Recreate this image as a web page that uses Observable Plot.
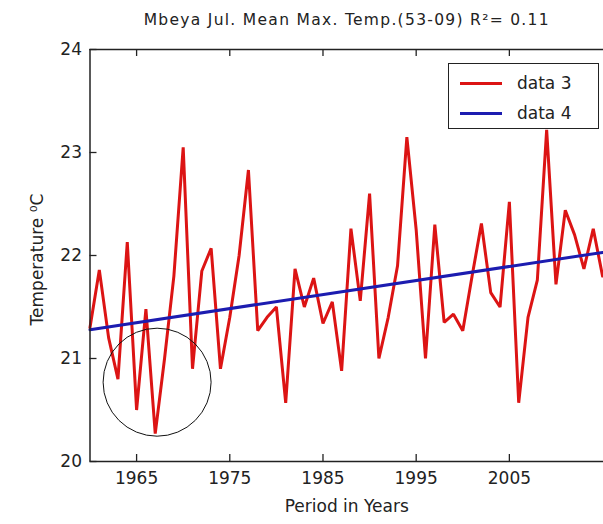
<!DOCTYPE html>
<html>
<head>
<meta charset="utf-8">
<script src="https://cdn.jsdelivr.net/npm/d3@7"></script>
<script src="https://cdn.jsdelivr.net/npm/@observablehq/plot@0.6"></script>
<style>
  html, body { margin: 0; padding: 0; background: #fff; overflow: hidden; }
  #wrap { position: relative; width: 603px; height: 524px; }
  #legend { position: absolute; left: 448px; top: 63px; width: 151px; height: 66px;
    border: 1px solid #222; background: #fff; box-sizing: border-box;
    font-family: "DejaVu Sans", sans-serif; font-size: 17px; color: #222; }
  .row { position: absolute; left: 0; height: 20px; display: flex; align-items: center; }
  .sw { width: 42px; height: 3px; margin-left: 11px; margin-right: 15px; }
</style>
</head>
<body>
<div id="wrap"><div id="chart"></div><div id="legend"></div></div>
<script>
const years = [1960,1961,1962,1963,1964,1965,1966,1967,1968,1969,1970,1971,1972,1973,1974,1975,1976,1977,1978,1979,1980,1981,1982,1983,1984,1985,1986,1987,1988,1989,1990,1991,1992,1993,1994,1995,1996,1997,1998,1999,2000,2001,2002,2003,2004,2005,2006,2007,2008,2009,2010,2011,2012,2013,2014,2015];
const temps = [21.30,21.86,21.20,20.80,22.13,20.50,21.48,20.27,21.00,21.80,23.05,20.90,21.85,22.07,20.90,21.40,22.00,22.83,21.27,21.40,21.50,20.57,21.87,21.50,21.78,21.34,21.55,20.88,22.26,21.56,22.60,21.00,21.40,21.90,23.15,22.25,21.00,22.30,21.35,21.43,21.27,21.80,22.31,21.64,21.50,22.52,20.57,21.40,21.76,23.22,21.72,22.44,22.20,21.87,22.26,21.80];
const trendYears = [1960, 2015];
const trendTemps = [21.28, 22.03];
const circleCenterYear = [1967.2];
const circleCenterTemp = [20.77];
const xTicks = [1965, 1975, 1985, 1995, 2005];
const yTicks = [20, 21, 22, 23, 24];
const xDomain = [1960, 2015.1];
const yDomain = [20, 24];
const titleText = ["Mbeya Jul. Mean Max. Temp.(53-09) R\u00B2= 0.11"];
const xLabel = ["Period in Years"];
const yLabel = ["Temperature \u2070C"];
const legendLabels = ["data 3", "data 4"];
const legendColors = ["#dc1414", "#1c1cb0"];

const series = years.map((y, i) => ({year: y, t: temps[i]}));
const trend = trendYears.map((y, i) => ({year: y, t: trendTemps[i]}));
const circle = circleCenterYear.map((y, i) => ({year: y, t: circleCenterTemp[i]}));

const W = 603, H = 524, mL = 89.5, mR = 0, mT = 49, mB = 63;
const pw = W - mL - mR, ph = H - mT - mB;
const font = "'DejaVu Sans', sans-serif";

const chart = Plot.plot({
  width: W, height: H,
  marginLeft: mL, marginRight: mR, marginTop: mT, marginBottom: mB,
  style: {fontFamily: font, fontSize: "17px", color: "#222", background: "white", overflow: "visible"},
  x: {domain: xDomain, label: null},
  y: {domain: yDomain, label: null},
  marks: [
    Plot.axisX({ticks: xTicks, tickSize: 0, tickPadding: 10, tickFormat: d => String(d), fontSize: 17}),
    Plot.axisY({ticks: yTicks, tickSize: 0, tickPadding: 8, tickFormat: d => String(d), fontSize: 17}),
    Plot.tickX(xTicks, {x: d => d, insetTop: ph - 7, stroke: "#222", strokeWidth: 1.3}),
    Plot.tickX(xTicks, {x: d => d, insetBottom: ph - 7, stroke: "#222", strokeWidth: 1.3}),
    Plot.tickY(yTicks, {y: d => d, insetRight: pw - 7, stroke: "#222", strokeWidth: 1.3}),
    Plot.line(series, {x: "year", y: "t", stroke: legendColors[0], strokeWidth: 3, strokeLinejoin: "miter"}),
    Plot.line(trend, {x: "year", y: "t", stroke: legendColors[1], strokeWidth: 3}),
    Plot.dot(circle, {x: "year", y: "t", r: 54, stroke: "#111", strokeWidth: 1, fill: "none"}),
    Plot.ruleX([xDomain[0]], {stroke: "#222", strokeWidth: 1.5}),
    Plot.ruleY(yDomain, {stroke: "#222", strokeWidth: 1.5}),
    Plot.text(titleText, {frameAnchor: "top", dy: -36, text: d => d, fontSize: 15.5, fill: "#222", className: "ttl"}),
    Plot.text(xLabel, {frameAnchor: "bottom", dy: 50, text: d => d, fontSize: 17, fill: "#222"}),
    Plot.text(yLabel, {frameAnchor: "left", textAnchor: "middle", dx: -52, dy: 4, rotate: -90, text: d => d, fontSize: 17, fill: "#222"})
  ]
});
document.getElementById("chart").appendChild(chart);
d3.select(chart).selectAll(".ttl text").style("letter-spacing", "1.3px");

const lg = document.getElementById("legend");
legendLabels.forEach((lab, i) => {
  const row = document.createElement("div");
  row.className = "row";
  row.style.top = (9 + i * 30) + "px";
  const sw = document.createElement("div");
  sw.className = "sw";
  sw.style.background = legendColors[i];
  const tx = document.createElement("span");
  tx.textContent = lab;
  row.appendChild(sw); row.appendChild(tx);
  lg.appendChild(row);
});
</script>
</body>
</html>
